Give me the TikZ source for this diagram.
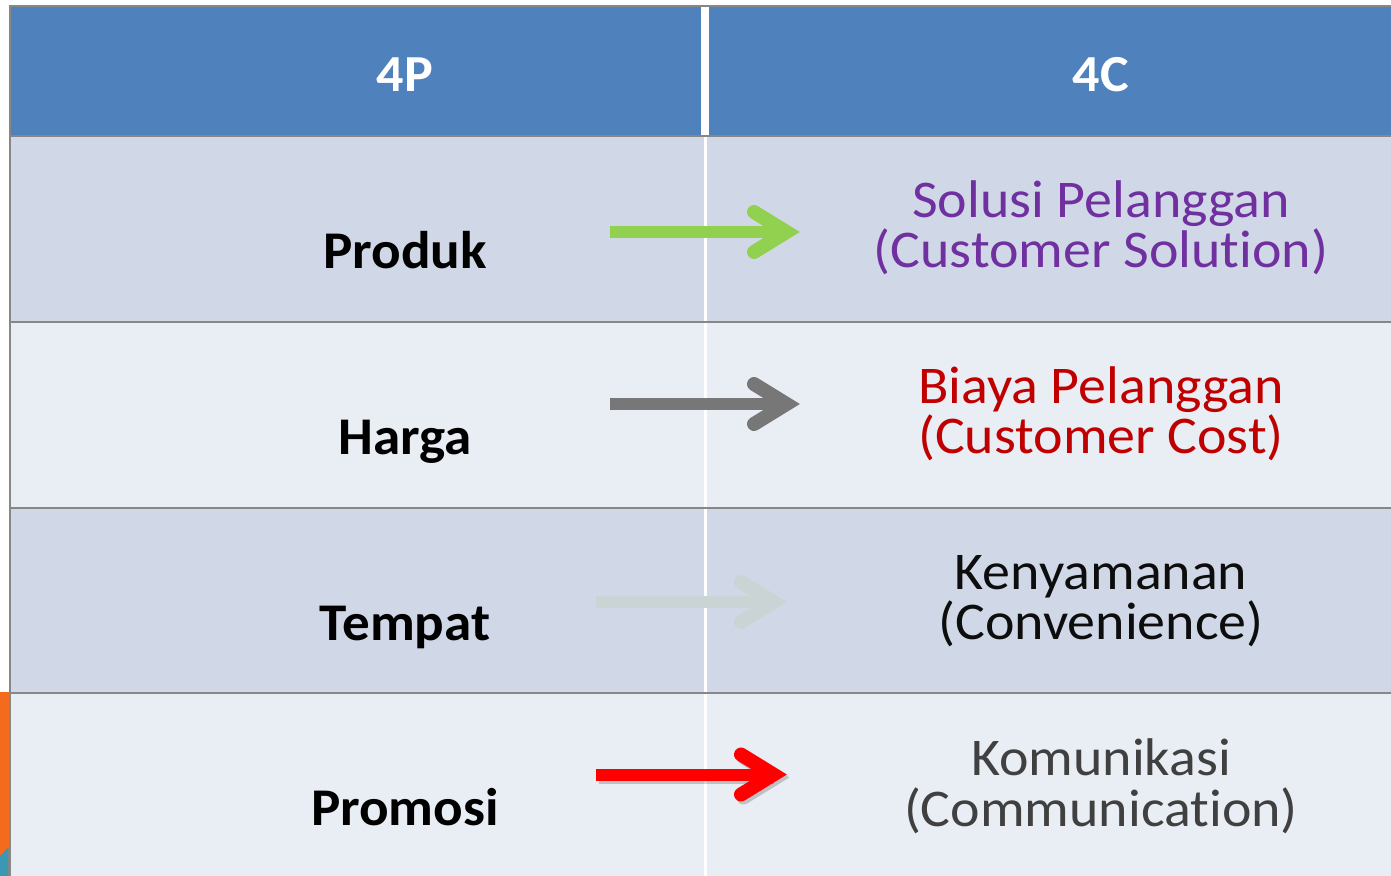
\documentclass[tikz,border=0pt]{standalone}
\usepackage{fontspec}
\setmainfont{Carlito}[Ligatures=NoCommon]
\newfontfamily\wideleft{Carlito}[Ligatures=NoCommon,FakeStretch=1.04]
\newfontfamily\wideright{Carlito}[Ligatures=NoCommon,FakeStretch=1.055]
\usetikzlibrary{calc}
\definecolor{hdr}{HTML}{4F81BD}
\definecolor{rowA}{HTML}{D0D8E8}
\definecolor{rowB}{HTML}{E9EDF4}
\definecolor{gridc}{HTML}{878787}
\definecolor{agreen}{HTML}{92D050}
\definecolor{agray}{HTML}{777777}
\definecolor{alight}{HTML}{CAD4D4}
\definecolor{ared}{HTML}{FF0000}
\definecolor{tpurple}{HTML}{7030A0}
\definecolor{tred}{HTML}{C00000}
\definecolor{tdark}{HTML}{404040}
\definecolor{tblack}{HTML}{0D0D0D}
\definecolor{sideorange}{HTML}{F56B1E}
\definecolor{sideteal}{HTML}{3A98B4}
\newcommand\fatarrow[3]{%
  \draw[line width=12pt,#1] (#2) -- ($(#3)+(-16,0)$);
  \draw[line width=14pt,#1,line cap=round,line join=miter,miter limit=10]
    ($(#3)+(-46,-20)$) -- ($(#3)+(-13.5,0)$) -- ($(#3)+(-46,20)$);}
\begin{document}
\begin{tikzpicture}[x=1pt,y=-1pt,
  gridline/.style={draw=gridc,line width=2pt},
  headtext/.style={anchor=base,inner sep=0pt,text=white,font=\wideleft\bfseries\fontsize{52}{52}\selectfont},
  lefttext/.style={anchor=base,inner sep=0pt,text=black,font=\wideleft\bfseries\fontsize{53}{53}\selectfont},
  righttext/.style={anchor=base,inner sep=0pt,font=\wideright\fontsize{53}{53}\selectfont}]
\useasboundingbox (0,0) rectangle (1391,875);
\fill[white] (0,0) rectangle (1391,875);
% cells
\fill[hdr]  (10,6)   rectangle (1400,136);
\fill[rowA] (10,136) rectangle (1400,322);
\fill[rowB] (10,322) rectangle (1400,508);
\fill[rowA] (10,508) rectangle (1400,693);
\fill[rowB] (10,693) rectangle (1400,880);
% side decoration
\fill[sideorange] (0,692) rectangle (8.5,880);
\fill[sideteal] (0,856) -- (8.5,847) -- (8.5,880) -- (0,880) -- cycle;
% column dividers
\draw[white,line width=8pt] (705,7) -- (705,136);
\draw[white,line width=2.5pt] (705.5,136) -- (705.5,880);
% grid lines
\draw[gridline] (9,6.3) -- (1400,6.3);
\draw[gridline] (9,136) -- (1400,136);
\draw[gridline] (9,322) -- (1400,322);
\draw[gridline] (9,508) -- (1400,508);
\draw[gridline] (9,693) -- (1400,693);
\draw[gridline] (10.3,5.3) -- (10.3,880);
% header
\node[headtext] (h1) at (405,92) {4P};
\node[headtext] (h2) at (1101,92) {4C};
% left labels
\node[lefttext] (p1) at (405,268) {Produk};
\node[lefttext] (p2) at (405,454) {Harga};
\node[lefttext] (p3) at (405,640) {Tempat};
\node[lefttext] (p4) at (405,825) {Promosi};
% right labels
\node[righttext,text=tpurple] (c1) at (1101,217) {Solusi Pelanggan};
\node[righttext,text=tpurple] (c1b) at (1101,267) {(Customer Solution)};
\node[righttext,text=tred] (c2) at (1101,403) {Biaya Pelanggan};
\node[righttext,text=tred] (c2b) at (1101,453) {(Customer Cost)};
\node[righttext,text=tblack] (c3) at (1101,589) {Kenyamanan};
\node[righttext,text=tblack] (c3b) at (1101,639) {(Convenience)};
\node[righttext,text=tdark] (c4) at (1101,775) {Komunikasi};
\node[righttext,text=tdark] (c4b) at (1101,826) {(Communication)};
% arrows
\coordinate (s1) at (610,232);   \coordinate (e1) at (800,232);
\coordinate (s2) at (610,404);   \coordinate (e2) at (800,404);
\coordinate (s3) at (596,602);   \coordinate (e3) at (787,602);
\coordinate (s4) at (596,774.5); \coordinate (e4) at (787,774.5);
\coordinate (s4sh) at (598.5,777.5); \coordinate (e4sh) at (789.5,777.5);
\fatarrow{agreen}{s1}{e1}
\fatarrow{agray}{s2}{e2}
\fatarrow{alight}{s3}{e3}
\fatarrow{black,opacity=0.18}{s4sh}{e4sh}
\fatarrow{ared}{s4}{e4}
\end{tikzpicture}
\end{document}
